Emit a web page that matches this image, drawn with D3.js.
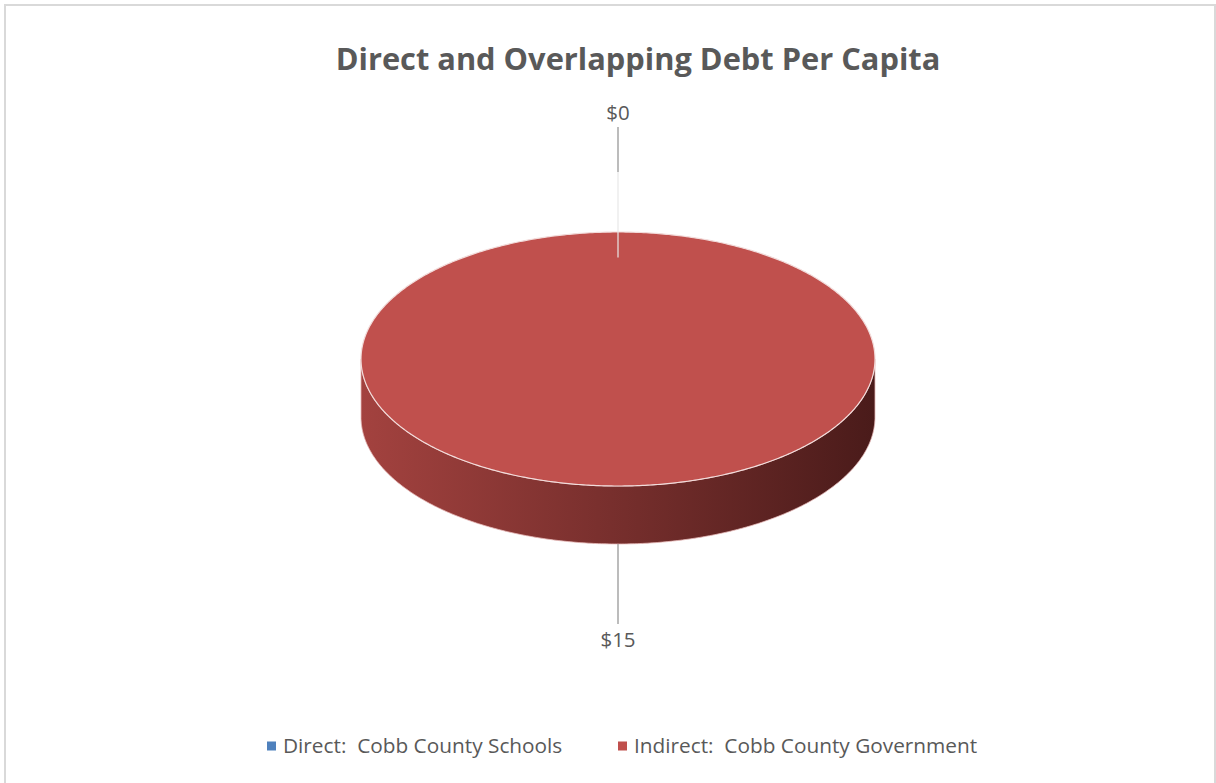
<!DOCTYPE html>
<html>
<head>
<meta charset="utf-8">
<script src="https://cdn.jsdelivr.net/npm/d3@7"></script>
<style>
  body { margin: 0; background: #fff; }
  text { font-family: 'Open Sans', 'Noto Sans', sans-serif; fill: #595959; white-space: pre; }
</style>
</head>
<body>
<div id="chart"></div>
<script>
// chart data
const categories = ['Direct:  Cobb County Schools', 'Indirect:  Cobb County Government']
const debtValues = [0, 15]
const valueLabels = ['$0', '$15']
const sliceColors = ['#4f81bd', '#c0504d']
const sideColors = [['#3c6390', '#1f344d'], ['#a3423f', '#4a1b1a']]

const drawPie3d = () => {
  const svgDimension = { width: 1216, height: 783 }

  const svg = d3
    .select('#chart')
    .append('svg')
    .attr('width', svgDimension.width)
    .attr('height', svgDimension.height)

  // outer chart border
  svg.append('rect')
    .attr('x', 5).attr('y', 5)
    .attr('width', 1210).attr('height', 800)
    .attr('fill', 'none')
    .attr('stroke', '#d9d9d9')
    .attr('stroke-width', 2)

  svg.append('text')
    .attr('x', 638)
    .attr('y', 70)
    .attr('text-anchor', 'middle')
    .attr('font-size', '30.8px')
    .attr('font-weight', 'bold')
    .text('Direct and Overlapping Debt Per Capita')

  // pie geometry
  const pie3d = { cx: 618, cy: 359, rx: 257, ry: 127, depth: 58 }

  const pieGen = d3.pie().sort(null).value(d => d.value)
  const arcsData = pieGen(categories.map((c, i) => ({ name: c, value: debtValues[i], idx: i })))

  // radius scale maps 0..1 of radius to pixels, angle -> ellipse point
  const rScale = d3.scaleLinear().domain([0, 1]).range([0, 1])
  const pt = (a, r, dy = 0) => [
    pie3d.cx + pie3d.rx * rScale(r) * Math.sin(a),
    pie3d.cy - pie3d.ry * rScale(r) * Math.cos(a) + dy,
  ]
  const arcPoints = (a0, a1, dy) => {
    const n = Math.max(2, Math.ceil((a1 - a0) / 0.01))
    return d3.range(n + 1).map(k => pt(a0 + (a1 - a0) * k / n, 1, dy))
  }

  const defs = svg.append('defs')
  sideColors.forEach((c, i) => {
    const g = defs.append('linearGradient')
      .attr('id', 'side' + i)
      .attr('x1', '0%').attr('x2', '100%').attr('y1', '0%').attr('y2', '0%')
    g.append('stop').attr('offset', '0%').attr('stop-color', c[0])
    g.append('stop').attr('offset', '100%').attr('stop-color', c[1])
  })

  const line = d3.line()
  const drawn = arcsData.filter(d => d.endAngle - d.startAngle > 0)

  // side walls (front half only: angles from pi/2 to 3pi/2)
  drawn.forEach(d => {
    const a0 = Math.max(d.startAngle, Math.PI / 2)
    const a1 = Math.min(d.endAngle, Math.PI * 3 / 2)
    if (a1 <= a0) return
    const top = arcPoints(a0, a1, 0)
    const bottom = arcPoints(a0, a1, pie3d.depth).reverse()
    svg.append('path')
      .attr('d', line(top.concat(bottom)) + 'Z')
      .attr('fill', `url(#side${d.data.idx})`)
      .attr('stroke', '#e6b9b8')
      .attr('stroke-width', 0.8)
  })

  // top faces
  drawn.forEach(d => {
    const full = d.endAngle - d.startAngle >= Math.PI * 2 - 1e-6
    const pts = arcPoints(d.startAngle, d.endAngle, 0)
    const path = full ? line(pts) + 'Z' : line([[pie3d.cx, pie3d.cy]].concat(pts)) + 'Z'
    svg.append('path')
      .attr('d', path)
      .attr('fill', sliceColors[d.data.idx])
      .attr('stroke', '#f2dcdb')
      .attr('stroke-width', 1.2)
  })

  // data labels with leader lines
  arcsData.forEach((d, i) => {
    const mid = (d.startAngle + d.endAngle) / 2
    const front = Math.cos(mid) < 0
    const x = pt(mid, 1)[0]
    if (!front) {
      const labelY = 113
      svg.append('line')
        .attr('x1', x).attr('x2', x)
        .attr('y1', labelY + 14).attr('y2', labelY + 59)
        .attr('stroke', '#a6a6a6').attr('stroke-width', 1.5)
      svg.append('line')
        .attr('x1', x).attr('x2', x)
        .attr('y1', labelY + 59).attr('y2', pt(mid, 0.8)[1])
        .attr('stroke', '#e8e8e8').attr('stroke-width', 1.5)
        .attr('opacity', 0.8)
      svg.append('text')
        .attr('x', x).attr('y', labelY)
        .attr('dy', '0.35em')
        .attr('text-anchor', 'middle')
        .attr('font-size', '20.5px')
        .text(valueLabels[i])
    } else {
      const y0 = pt(mid, 1, pie3d.depth)[1]
      const labelY = 640
      svg.append('line')
        .attr('x1', x).attr('x2', x)
        .attr('y1', y0).attr('y2', labelY - 16)
        .attr('stroke', '#a6a6a6').attr('stroke-width', 1.5)
      svg.append('text')
        .attr('x', x).attr('y', labelY)
        .attr('dy', '0.35em')
        .attr('text-anchor', 'middle')
        .attr('font-size', '20.5px')
        .text(valueLabels[i])
    }
  })

  // legend
  const legendX = d3.scalePoint().domain(categories).range([267, 618])
  const legend = svg.append('g')
    .selectAll('g')
    .data(categories)
    .join('g')
    .attr('transform', d => `translate(${legendX(d)}, 746)`)
  legend.append('rect')
    .attr('x', 0).attr('y', -4.5)
    .attr('width', 9).attr('height', 9)
    .attr('fill', (d, i) => sliceColors[i])
  legend.append('text')
    .attr('x', 16)
    .attr('dy', '0.35em')
    .attr('font-size', '20.8px')
    .text(d => d)
}

drawPie3d()
</script>
</body>
</html>
